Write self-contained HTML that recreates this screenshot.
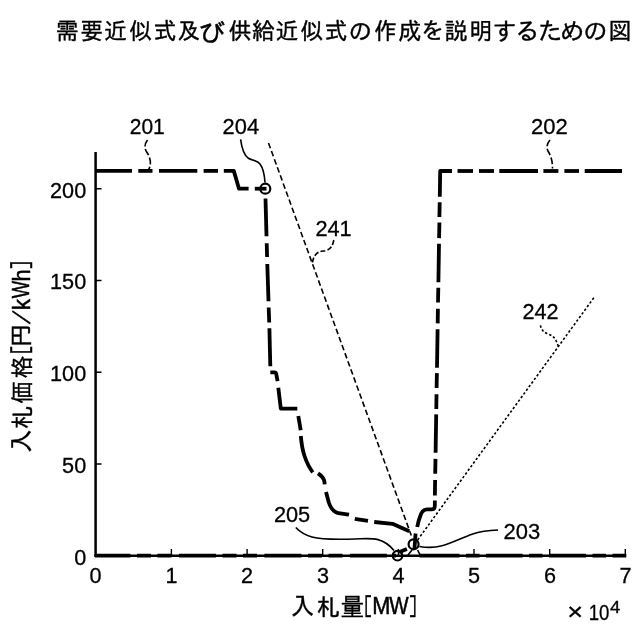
<!DOCTYPE html>
<html lang="ja">
<head>
<meta charset="utf-8">
<title>需要近似式及び供給近似式の作成を説明するための図</title>
<style>
html,body{margin:0;padding:0;background:#fff;}
body{width:640px;height:640px;overflow:hidden;position:relative;}
svg{position:absolute;left:0;top:0;display:block;}
.jp{font-family:"Liberation Sans","IPAGothic",sans-serif;fill:#000;stroke:#000;stroke-width:0.4;}
.lat{stroke-width:0.5;}
.sym{font-family:"IPAGothic","Liberation Sans",sans-serif;stroke-width:0.5;}
.num{font-family:"Liberation Sans","IPAGothic",sans-serif;fill:#000;stroke:#000;stroke-width:0.3;}
.thick{fill:none;stroke:#000;stroke-width:3.8;stroke-linecap:butt;stroke-linejoin:round;}
.thin{fill:none;stroke:#000;stroke-width:1.6;}
</style>
</head>
<body>
<svg width="640" height="640" viewBox="0 0 640 640">
<rect x="0" y="0" width="640" height="640" fill="#fff"/>

<!-- title -->
<text class="jp" font-size="23"><tspan x="56.03" y="39.3">需</tspan><tspan x="79.9" y="39.3">要</tspan><tspan x="103.95" y="39.3">近</tspan><tspan x="129" y="39.3">似</tspan><tspan x="153.25" y="39.3">式</tspan><tspan x="176.97" y="39.3">及</tspan><tspan x="198.59" y="41.62" font-size="26.48">び</tspan><tspan x="228.62" y="39.3">供</tspan><tspan x="251.68" y="39.3">給</tspan><tspan x="275.45" y="39.3">近</tspan><tspan x="300.3" y="39.3">似</tspan><tspan x="324.25" y="39.3">式</tspan><tspan x="348.6" y="39.5" font-size="23.55">の</tspan><tspan x="374.1" y="39.3">作</tspan><tspan x="398.62" y="39.3">成</tspan><tspan x="420.76" y="39.4" font-size="23.27">を</tspan><tspan x="444.68" y="39.3">説</tspan><tspan x="469.43" y="39.3">明</tspan><tspan x="492.22" y="39.79" font-size="24.37">す</tspan><tspan x="514.77" y="40.01" font-size="25.01">る</tspan><tspan x="538.02" y="39.83" font-size="24.37">た</tspan><tspan x="560.21" y="39.69" font-size="24.04">め</tspan><tspan x="583.35" y="39.67" font-size="24.04">の</tspan><tspan x="608.5" y="39.3">図</tspan></text>

<!-- axes -->
<g id="axes" fill="none" stroke="#000">
<path d="M95.6,152 V556.8" stroke-width="2.5"/>
<path d="M94.4,555.7 H626.2" stroke-width="2.6"/>
<path d="M96,188.7 h5.5 M96,280.5 h5.5 M96,372.2 h5.5 M96,464 h5.5" stroke-width="1.4"/>
<path d="M171.4,555 v-6 M247.1,555 v-6 M322.7,555 v-6 M398.4,555 v-6 M474,555 v-6 M549.7,555 v-6 M625.3,555 v-6" stroke-width="1.4"/>
</g>

<!-- y tick labels -->
<g class="num">
<text transform="translate(86.2,197.6) scale(0.985,1.035)" text-anchor="end" style="font-size:22px">200</text>
<text transform="translate(86.2,289.3) scale(0.985,1.035)" text-anchor="end" style="font-size:22px">150</text>
<text transform="translate(86.2,381.1) scale(0.985,1.035)" text-anchor="end" style="font-size:22px">100</text>
<text transform="translate(86.2,472.8) scale(0.985,1.035)" text-anchor="end" style="font-size:22px">50</text>
<text transform="translate(86.2,564.6) scale(0.985,1.035)" text-anchor="end" style="font-size:22px">0</text>
</g>
<!-- x tick labels -->
<g class="num">
<text transform="translate(95.5,583.2) scale(0.985,1.035)" text-anchor="middle" style="font-size:22px">0</text>
<text transform="translate(171.4,583.2) scale(0.985,1.035)" text-anchor="middle" style="font-size:22px">1</text>
<text transform="translate(247.1,583.2) scale(0.985,1.035)" text-anchor="middle" style="font-size:22px">2</text>
<text transform="translate(322.9,583.2) scale(0.985,1.035)" text-anchor="middle" style="font-size:22px">3</text>
<text transform="translate(398.4,583.2) scale(0.985,1.035)" text-anchor="middle" style="font-size:22px">4</text>
<text transform="translate(474,583.2) scale(0.985,1.035)" text-anchor="middle" style="font-size:22px">5</text>
<text transform="translate(549.9,583.2) scale(0.985,1.035)" text-anchor="middle" style="font-size:22px">6</text>
<text transform="translate(625.6,583.2) scale(0.985,1.035)" text-anchor="middle" style="font-size:22px">7</text>
</g>

<!-- x axis label -->
<text class="jp"><tspan class="cjk" x="290.94" y="615.08" font-size="24.59" textLength="23.39" lengthAdjust="spacingAndGlyphs">入</tspan><tspan class="cjk" x="316.47" y="614.63" font-size="23.02" textLength="23.47" lengthAdjust="spacingAndGlyphs">札</tspan><tspan class="cjk" x="340.65" y="614.86" font-size="23.62" textLength="23.69" lengthAdjust="spacingAndGlyphs">量</tspan><tspan class="sym" x="363.87" y="615.16" font-size="24.06" textLength="8.47" lengthAdjust="spacingAndGlyphs">[</tspan><tspan class="lat" x="372.27" y="614.3" font-size="23.95" textLength="18.14" lengthAdjust="spacingAndGlyphs">M</tspan><tspan class="lat" x="389.27" y="614.3" font-size="23.95" textLength="19.35" lengthAdjust="spacingAndGlyphs">W</tspan><tspan class="sym" x="408.85" y="615.16" font-size="24.06" textLength="8.47" lengthAdjust="spacingAndGlyphs">]</tspan></text>
<!-- y axis label -->
<text class="jp" transform="rotate(-90)"><tspan class="cjk" x="-453.08" y="30.11" font-size="23.99" textLength="23.62" lengthAdjust="spacingAndGlyphs">入</tspan><tspan class="cjk" x="-429.33" y="29.85" font-size="22.79" textLength="23.47" lengthAdjust="spacingAndGlyphs">札</tspan><tspan class="cjk" x="-403.77" y="29.76" font-size="22.61" textLength="22.6" lengthAdjust="spacingAndGlyphs">価</tspan><tspan class="cjk" x="-378.37" y="29.65" font-size="22.72" textLength="22.6" lengthAdjust="spacingAndGlyphs">格</tspan><tspan class="sym" x="-354.54" y="30.21" font-size="23.39" textLength="8.96" lengthAdjust="spacingAndGlyphs">[</tspan><tspan class="cjk" x="-347.53" y="29.2" font-size="22.93" textLength="24.27" lengthAdjust="spacingAndGlyphs">円</tspan><tspan class="sym" x="-324.73" y="28.78" font-size="19.77" textLength="15.05" lengthAdjust="spacingAndGlyphs">/</tspan><tspan class="lat" x="-310.13" y="29.9" font-size="24.61" textLength="11.23" lengthAdjust="spacingAndGlyphs">k</tspan><tspan class="lat" x="-298.21" y="29.3" font-size="24.09" textLength="17.42" lengthAdjust="spacingAndGlyphs">W</tspan><tspan class="lat" x="-281.38" y="29.9" font-size="24.61" textLength="12.05" lengthAdjust="spacingAndGlyphs">h</tspan><tspan class="sym" x="-269.43" y="30.21" font-size="23.39" textLength="8.96" lengthAdjust="spacingAndGlyphs">]</tspan></text>
<!-- exponent -->
<text class="num"><tspan class="n" x="567.35" y="620.24" font-size="23.24" textLength="15.83" lengthAdjust="spacingAndGlyphs">×</tspan><tspan class="n" x="588.72" y="620.15" font-size="22.07" textLength="20.7" lengthAdjust="spacingAndGlyphs">10</tspan><tspan class="n" x="609.98" y="612.8" font-size="15.58" textLength="10.25" lengthAdjust="spacingAndGlyphs">4</tspan></text>

<!-- demand curve 201 (dash-dot) -->
<g class="thick" id="c201">
<path d="M95,170.9 H132"/>
<path d="M138.3,170.9 H152.5"/>
<path d="M159,170.9 H197.3"/>
<path d="M203.6,170.9 H218"/>
<path d="M223.8,170.9 H233.8 L239,188.7 H248.6"/>
<path d="M254.8,188.7 H266.5"/>
<path d="M265.5,198.5 L266.5,236.2"/>
<path d="M266.7,243.3 L267.1,257"/>
<path d="M267.3,264 L268.5,301.2"/>
<path d="M268.7,307.5 L269.2,322.5"/>
<path d="M269.4,328.2 L270.3,366.3"/>
<path d="M270.3,372.4 H274.6 C275.6,372.4 276,372.8 276.2,373.8 L277.6,381.2"/>
<path d="M278.3,387.8 L280.8,408.6 H297.3"/>
<path d="M298.3,416 L300.7,430.2"/>
<path d="M300.8,436 C301.5,444 302.5,450 304.5,456 C306.5,462 309.5,468 312.8,472.3"/>
<path d="M318,473.3 C321,475.3 323.3,477.8 324,480 C324.4,481.5 324.6,483 324.7,484.3"/>
<path d="M326,491.9 L328.8,502.5 C330.5,507.5 333,511.5 337.5,512.8 C341,513.7 345,513.8 349,514.6"/>
<path d="M354.8,518.8 L368,520.8"/>
<path d="M374.2,522 L392.5,523.8 L409.3,531.3"/>
</g>

<!-- supply curve 202 (dash-dot-dot) -->
<g class="thick" id="c202">
<path d="M622,171.0 H584.7"/>
<path d="M579,171.0 H564.4"/>
<path d="M558.4,171.0 H543.4"/>
<path d="M538,171.0 H499.3"/>
<path d="M494,171.0 H479"/>
<path d="M473,171.0 H457.5"/>
<path d="M452,171.0 H440.2 L439.8,196.7"/>
<path d="M439.7,202.2 L439.4,217"/>
<path d="M439.4,222.5 L439.1,238.1"/>
<path d="M439.0,243.8 L438.4,282.2"/>
<path d="M438.3,287.7 L438.0,302.5"/>
<path d="M437.9,308.75 L437.7,323.4"/>
<path d="M437.6,329.2 L437.0,367.7"/>
<path d="M436.9,373.1 L436.6,388"/>
<path d="M436.5,394.2 L436.3,409"/>
<path d="M436.2,414.4 L435.6,452.7"/>
<path d="M435.5,458.9 L435.2,473.75"/>
<path d="M435.1,480 L434.9,495.6"/>
<path d="M434.9,500.5 L434.8,506 C434.8,508.6 434,509.4 431.5,509.4 L427,509.4 C424,509.5 422.3,510.8 421,514 C419.5,517.8 418,522 417.2,527"/>
<path d="M415.6,533.5 L414.4,549.5"/>
<path d="M406.9,549 L399,552.2"/>
</g>

<!-- curves lying on the x axis -->
<g class="thick" id="zero">
<path d="M95,555.7 H130.4 M137,555.7 H151 M157.5,555.7 H171.5 M178.9,555.7 H215.9 M222.5,555.7 H236.5 M243,555.7 H257 M264.4,555.7 H301.4 M308,555.7 H322 M328.5,555.7 H342.5 M349.9,555.7 H386.9 M392,555.7 H396"/>
<path d="M419.5,555.7 H459.5 M466,555.7 H479.5 M486,555.7 H522.5 M529,555.7 H542.5 M549,555.7 H586 M592.5,555.7 H606 M612.5,555.7 H626.2"/>
</g>

<!-- approximation lines -->
<path class="thin" d="M268.5,143 L411.3,535.5" stroke-width="2.1" stroke-dasharray="5.6 3"/>
<path class="thin" d="M593.8,297.8 L416.5,541.5" stroke-width="1.85" stroke-dasharray="2.4 2.1"/>
<path class="thin" d="M408,555 L412,550 M417.6,550 L420.2,555.2" stroke-width="1.2"/>

<!-- circles -->
<g fill="none" stroke="#000" stroke-width="2.2">
<circle cx="265.3" cy="188.7" r="5"/>
<circle cx="413.6" cy="544.3" r="5"/>
<circle cx="397.5" cy="555.7" r="4.8"/>
</g>

<!-- leaders -->
<path class="thin" stroke-width="1.7" d="M240.6,139.4 C241.5,146 243,154 248,158 C252,161 257,159.5 260,164 C263,168 264.5,175 265,182.5"/>
<path class="thin" d="M147.5,140 C144.5,144 144,148 147,152.5 C150,157 152,163 148.8,169.4" stroke-dasharray="7 2.5"/>
<path class="thin" d="M550,140 C546.5,144 546,148 548.8,152.5 C551.5,157 552.5,162 552.5,168.5" stroke-dasharray="7 2.5"/>
<path class="thin" d="M333.8,240 C333,245 331,248.5 327.5,250 C324,251.5 321,250.5 318,252.5 C315,254.5 313,258 312.5,262.5" stroke-width="1.6" stroke-dasharray="5 2.2"/>
<path class="thin" d="M540.5,325.3 C541,329.5 543.5,332 547,333.5 C551,335 554,336.5 556,340.5 C557.2,343 558,345 558.4,347.5" stroke-width="1.6" stroke-dasharray="2.4 2"/>
<path class="thin" d="M295.8,527.5 C300,532 305,535 312,537 C325,540.5 345,539.3 360,538.8 C368,538.5 374,538.6 378,539.6 C385,541.5 390,545.5 394,550.5" stroke-width="1.8"/>
<path class="thin" d="M419.4,546.5 C427,547.8 435,547.6 442,545.8 C452,543 462,537.8 472,534.2 C481,531 489,530.2 498,530" stroke-width="1.8"/>


<!-- reference numerals -->
<g class="num">
<text transform="translate(129.74,134.25) scale(0.955,0.997)" style="font-size:22px">201</text>
<text transform="translate(531,134.25) scale(1.001,0.997)" style="font-size:22px">202</text>
<text transform="translate(503.5,539.05) scale(1.001,1.016)" style="font-size:22px">203</text>
<text transform="translate(222.61,134.25) scale(0.994,0.997)" style="font-size:22px">204</text>
<text transform="translate(273.91,521.75) scale(0.990,0.990)" style="font-size:22px">205</text>
<text transform="translate(315.41,235.7) scale(0.987,1.013)" style="font-size:22px">241</text>
<text transform="translate(522.42,319.4) scale(0.984,1.026)" style="font-size:22px">242</text>
</g>
</svg>
</body>
</html>
